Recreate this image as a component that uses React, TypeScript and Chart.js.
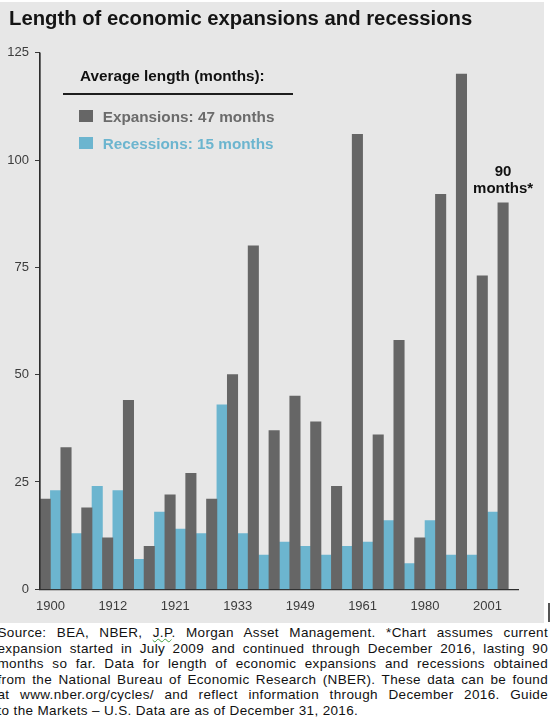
import React, { useEffect, useRef } from "react";
import { Chart, registerables } from "chart.js";

Chart.register(...registerables);

// ---- data ----
const expansions = [21, 33, 19, 12, 44, 10, 22, 27, 21, 50, 80, 37, 45, 39, 24, 106, 36, 58, 12, 92, 120, 73, 90];
const recessions = [23, 13, 24, 23, 7, 18, 14, 13, 43, 13, 8, 11, 10, 8, 10, 11, 16, 6, 16, 8, 8, 18];
const tickLabels = ["1900", "1912", "1921", "1933", "1949", "1961", "1980", "2001"];
// each label sits after this bar (bars counted left to right, expansions and recessions alternating)
const tickAfterBar = [0, 6, 12, 18, 24, 30, 36, 42];
const yTicks = [0, 25, 50, 75, 100, 125];
const seriesNames = ["Expansions", "Recessions"];
const footnoteLines = [
  "Source: BEA, NBER, J.P. Morgan Asset Management. *Chart assumes current",
  "expansion started in July 2009 and continued through December 2016, lasting 90",
  "months so far. Data for length of economic expansions and recessions obtained",
  "from the National Bureau of Economic Research (NBER). These data can be found",
  "at www.nber.org/cycles/ and reflect information through December 2016. Guide",
  "to the Markets \u2013 U.S. Data are as of December 31, 2016.",
];

const GRAY = "#666666";
const BLUE = "#6cb5cf";
const FONT = '"Liberation Sans", Arial, sans-serif';
const AXIS = "#2e2e2e";

const mean = (a: number[]) => Math.round(a.reduce((s, v) => s + v, 0) / a.length);

const lastLabelPlugin = {
  id: "lastLabel",
  afterDatasetsDraw(chart: any) {
    const meta = chart.getDatasetMeta(0);
    const el = meta.data[meta.data.length - 1];
    if (!el) return;
    const ctx = chart.ctx;
    ctx.save();
    ctx.font = `bold 15px ${FONT}`;
    ctx.fillStyle = "#111111";
    ctx.textAlign = "center";
    ctx.textBaseline = "alphabetic";
    ctx.fillText(String(expansions[expansions.length - 1]), el.x, el.y - 27);
    ctx.fillText("months*", el.x, el.y - 9.5);
    ctx.restore();
  },
};

// draws the vertical axis line over the bars' left edge
const yAxisLinePlugin = {
  id: "yAxisLine",
  afterDatasetsDraw(chart: any) {
    const { ctx, chartArea } = chart;
    ctx.save();
    ctx.strokeStyle = AXIS;
    ctx.lineWidth = 1.2;
    ctx.beginPath();
    ctx.moveTo(chartArea.left, chartArea.top);
    ctx.lineTo(chartArea.left, chartArea.bottom);
    ctx.stroke();
    ctx.restore();
  },
};

export default function App() {
  const canvasRef = useRef<HTMLCanvasElement | null>(null);

  useEffect(() => {
    const canvas = canvasRef.current;
    if (!canvas) return;
    const total = expansions.length + recessions.length;
    const expData = expansions.map((v, i) => ({ x: 2 * i, y: v }));
    const recData = recessions.map((v, i) => ({ x: 2 * i + 1, y: v }));
    const chart = new Chart(canvas, {
      type: "bar",
      data: {
        datasets: [
          { label: seriesNames[0], data: expData, backgroundColor: GRAY },
          { label: seriesNames[1], data: recData, backgroundColor: BLUE },
        ],
      },
      plugins: [lastLabelPlugin, yAxisLinePlugin],
      options: {
        animation: false,
        responsive: false,
        events: [],
        datasets: {
          bar: {
            grouped: false,
            barPercentage: 1,
            categoryPercentage: 1,
            borderWidth: 0,
          },
        },
        layout: { padding: { top: 52.7, right: 25.3, bottom: 0, left: 0 } },
        plugins: {
          legend: { display: false },
          tooltip: { enabled: false },
          title: { display: false },
        },
        scales: {
          x: {
            type: "linear",
            offset: false,
            min: -0.5,
            max: total + 0.5,
            afterBuildTicks: (axis: any) => {
              axis.ticks = tickAfterBar.map((i) => ({ value: i + 0.5 }));
            },
            afterFit: (s: any) => {
              s.height = 33.7;
            },
            ticks: {
              autoSkip: false,
              maxRotation: 0,
              padding: 9,
              color: "#3c3c3c",
              font: { family: FONT, size: 13 },
              callback: (_v: any, i: number) => tickLabels[i],
            },
            grid: { display: true, offset: false, drawOnChartArea: false, drawTicks: false },
            border: { display: true, color: AXIS, width: 1.2 },
          },
          y: {
            min: 0,
            max: 125,
            afterBuildTicks: (axis: any) => {
              axis.ticks = yTicks.map((v) => ({ value: v }));
            },
            afterFit: (s: any) => {
              s.width = 40;
            },
            ticks: {
              padding: 6,
              color: "#3c3c3c",
              font: { family: FONT, size: 13 },
            },
            grid: { display: true, drawOnChartArea: false, drawTicks: true, tickLength: 5, color: "#3a3a3a" },
            border: { display: true, color: AXIS, width: 1.2 },
          },
        },
      } as any,
    });
    return () => chart.destroy();
  }, []);

  const textBase: React.CSSProperties = {
    position: "absolute",
    fontFamily: FONT,
    fontWeight: "bold",
    whiteSpace: "nowrap",
  };

  return (
    <div
      style={{
        position: "absolute",
        left: 0,
        top: 0,
        width: 550,
        height: 726,
        background: "#ffffff",
        overflow: "hidden",
      }}
    >
      <div style={{ position: "absolute", left: 0, top: 2, width: 544, height: 621, background: "#e7e7e7" }} />
      <canvas
        ref={canvasRef}
        width={544}
        height={623}
        style={{ position: "absolute", left: 0, top: 0, width: 544, height: 623 }}
      />
      <div style={{ ...textBase, left: 9, top: 8.2, fontSize: 20.3, lineHeight: "20.3px", color: "#141414" }}>
        Length of economic expansions and recessions
      </div>

      {/* legend */}
      <div style={{ ...textBase, left: 80, top: 67.7, fontSize: 15.3, lineHeight: "15.3px", color: "#111111" }}>
        Average length (months):
      </div>
      <div style={{ position: "absolute", left: 62.7, top: 93.3, width: 230, height: 2, background: "#1e1e1e" }} />
      <div style={{ position: "absolute", left: 79.3, top: 109.5, width: 14, height: 12, background: GRAY }} />
      <div style={{ ...textBase, left: 102.7, top: 108.7, fontSize: 15.3, lineHeight: "15.3px", color: "#6b6b6b" }}>
        {`${seriesNames[0]}: ${mean(expansions)} months`}
      </div>
      <div style={{ position: "absolute", left: 79.3, top: 136.8, width: 14, height: 12, background: BLUE }} />
      <div style={{ ...textBase, left: 102.7, top: 135.7, fontSize: 15.3, lineHeight: "15.3px", color: "#6cb5cf" }}>
        {`${seriesNames[1]}: ${mean(recessions)} months`}
      </div>

      {/* stray mark at right edge */}
      <div style={{ position: "absolute", left: 548, top: 603, width: 2, height: 19, background: "#555555" }} />

      {/* footnote */}
      <div
        style={{
          position: "absolute",
          left: -2.5,
          top: 625,
          width: 550.5,
          fontFamily: FONT,
          fontSize: 13.5,
          letterSpacing: "0.35px",
          color: "#111111",
        }}
      >
        {footnoteLines.map((line, i) => {
          const last = i === footnoteLines.length - 1;
          const content =
            i === 0 ? (
              <>
                {"Source: BEA, NBER, "}
                <span style={{ textDecoration: "underline wavy #3f9f3f", textDecorationThickness: 1 }}>J.P</span>
                {line.slice("Source: BEA, NBER, J.P".length)}
              </>
            ) : (
              line
            );
          return (
            <div
              key={i}
              style={{
                height: 15.5,
                lineHeight: "15.5px",
                textAlign: last ? "left" : "justify",
                textAlignLast: last ? "left" : "justify",
              }}
            >
              {content}
            </div>
          );
        })}
      </div>
    </div>
  );
}
